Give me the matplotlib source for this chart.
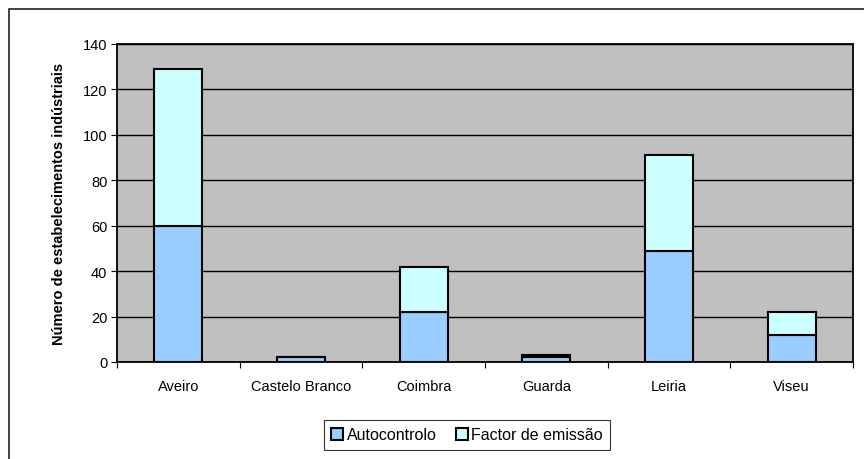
import numpy as np
import matplotlib.pyplot as plt
from matplotlib.patches import Rectangle

districts = ["Aveiro", "Castelo Branco", "Coimbra", "Guarda", "Leiria", "Viseu"]
autocontrolo = [60, 2, 22, 2, 49, 12]
factor_emissao = [69, 0, 20, 1, 42, 10]

plt.rcParams['font.family'] = ['Liberation Sans', 'DejaVu Sans']

fig = plt.figure(figsize=(8.64, 4.6), dpi=100)
# outer chart frame: only left and top edges fall inside the image
fig.patches.append(Rectangle((8.5 / 864, -0.1), 1.0, 1 - 9.5 / 460 + 0.1,
                             transform=fig.transFigure, fill=False,
                             edgecolor='#222222', linewidth=1.2))

ax = fig.add_axes([117 / 864, 1 - 363 / 460, 736 / 864, 318 / 460])
ax.set_facecolor('#c0c0c0')

x = np.arange(len(districts))
w = 0.39
ax.bar(x, autocontrolo, w, color='#99ccff', edgecolor='black', linewidth=1.5,
       label='Autocontrolo', zorder=3)
ax.bar(x, factor_emissao, w, bottom=autocontrolo, color='#ccffff',
       edgecolor='black', linewidth=1.5, label='Factor de emissão', zorder=3)

ax.set_xlim(-0.5, len(districts) - 0.5)
ax.set_ylim(0, 140)
ax.set_yticks(range(0, 141, 20))
ax.yaxis.grid(True, color='black', linewidth=1, zorder=1)
ax.set_xticks(np.arange(-0.5, len(districts), 1), minor=False)
ax.set_xticklabels([])
ax.set_xticks(x, minor=True)
ax.set_xticklabels(districts, minor=True, fontsize=10.5)
ax.tick_params(axis='x', which='minor', length=0, pad=12)
ax.tick_params(axis='x', which='major', length=4, direction='out')
ax.tick_params(axis='y', labelsize=10.5, length=4, pad=3)
for s in ax.spines.values():
    s.set_linewidth(1.3)

ax.set_ylabel('Número de estabelecimentos indústriais', fontsize=10.5,
              fontweight='bold', labelpad=12)

leg = fig.legend(loc='center', bbox_to_anchor=(467 / 864, 1 - 436 / 460),
                 ncol=2, fontsize=11.5, frameon=True, fancybox=False,
                 edgecolor='black', handlelength=0.75, handleheight=0.75,
                 handletextpad=0.2, columnspacing=1.2, borderpad=0.45)
leg.get_frame().set_linewidth(0.8)

fig.savefig('out.png', dpi=100)
